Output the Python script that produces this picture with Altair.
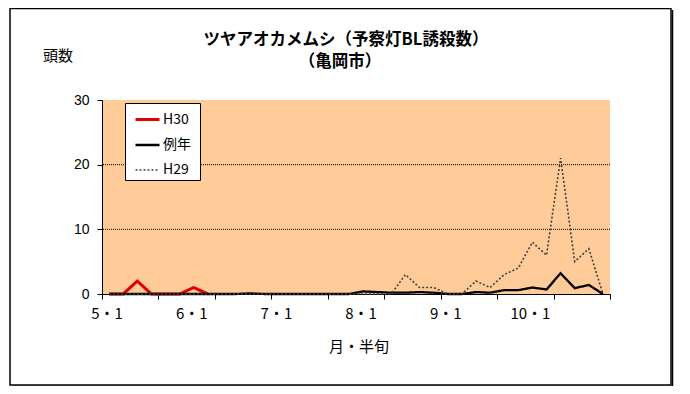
import altair as alt
import pandas as pd

# ---- data ----
months = [5, 6, 7, 8, 9, 10]
periods_per_month = 6
categories = [f"{m}・{k}" for m in months for k in range(1, periods_per_month + 1)]

series_names = ["H30", "例年", "H29"]
h30 = [0, 0, 2, 0, 0, 0, 1, 0]
normal = [0, 0, 0, 0, 0, 0, 0, 0, 0, 0,
          0.1, 0, 0, 0, 0, 0, 0, 0, 0.4, 0.3,
          0.2, 0.2, 0.3, 0.2, 0, 0, 0.3, 0.2, 0.6, 0.6,
          1.0, 0.7, 3.2, 0.9, 1.4, 0]
h29 = [0, 0, 0, 0, 0, 0, 0, 0, 0, 0,
       0, 0, 0, 0, 0, 0, 0, 0, 0, 0,
       0, 3, 1, 1, 0, 0, 2, 1, 3, 4,
       8, 6, 21, 5, 7, 0]

y_ticks = [0, 10, 20, 30]
grid_values = [10, 20]
title_lines = ["ツヤアオカメムシ（予察灯BL誘殺数）", "（亀岡市）"]
y_title = "頭数"
x_title = "月・半旬"

# ---- tables ----
rows = []
for name, vals in zip(series_names, [h30, normal, h29]):
    for i, v in enumerate(vals):
        rows.append({"pos": i + 0.5, "value": v, "series": name})
df = pd.DataFrame(rows)

lab_df = pd.DataFrame([{"pos": i + 0.5, "label": c}
                       for i, c in enumerate(categories) if c.endswith("・1")])
grid_df = pd.DataFrame({"v": grid_values})

W, H = 508, 194
FONT = "Liberation Sans, Noto Sans CJK JP"
JFONT = "Noto Sans CJK JP"

xscale = alt.Scale(domain=[0, len(categories)], nice=False, zero=False)
yscale = alt.Scale(domain=[0, 30], nice=False)
yaxis = alt.Axis(values=y_ticks, title=None, grid=False, tickSize=5,
                 tickColor="black", domainColor="black", labelPadding=8,
                 labelFont=FONT, labelFontSize=14, labelColor="black")
xaxis = alt.Axis(values=list(range(0, len(categories) + 1)), labels=False,
                 title=None, grid=False, tickSize=5, tickColor="black",
                 domainColor="black", domainWidth=1, tickWidth=1)

LX, LY = 32, 6
single = alt.Data(values=[{}])
legend_box = alt.Chart(single).mark_rect(fill="white", stroke="black", strokeWidth=1).encode(
    x=alt.value(23.5), x2=alt.value(98.5), y=alt.value(3.5), y2=alt.value(80.5))

lines = alt.Chart(df).mark_line(interpolate="linear").encode(
    x=alt.X("pos:Q", scale=xscale, axis=xaxis),
    y=alt.Y("value:Q", scale=yscale, axis=yaxis),
    color=alt.Color("series:N",
                    scale=alt.Scale(domain=series_names,
                                    range=["#E00000", "#000000", "#404040"]),
                    legend=alt.Legend(title=None, orient="none", legendX=LX, legendY=LY,
                                      padding=0, symbolType="stroke", symbolSize=576,
                                      labelFont=JFONT, labelFontSize=14,
                                      labelColor="black", rowPadding=4.5,
                                      labelOffset=2, symbolStrokeWidth=2)),
    strokeDash=alt.StrokeDash("series:N",
                              scale=alt.Scale(domain=series_names,
                                              range=[[1, 0], [1, 0], [2, 2]]),
                              legend=alt.Legend(title=None, orient="none",
                                                legendX=LX, legendY=LY)),
    strokeWidth=alt.StrokeWidth("series:N",
                                scale=alt.Scale(domain=series_names,
                                                range=[3, 1.6, 1]),
                                legend=alt.Legend(title=None, orient="none",
                                                  legendX=LX, legendY=LY)),
    detail="series:N",
)

grid = alt.Chart(grid_df).mark_rule(color="#000000", strokeWidth=1,
                                     strokeDash=[1, 1]).encode(
    y=alt.Y("v:Q", scale=yscale, axis=yaxis))

month_labels = alt.Chart(lab_df).mark_text(font=JFONT, fontSize=15, color="black",
                                           baseline="middle", dx=-2).encode(
    x=alt.X("pos:Q", scale=xscale), y=alt.value(H + 20), text="label:N")

t1 = alt.Chart(single).mark_text(text=title_lines[0], font=JFONT, fontSize=16.5,
                                 fontWeight="bold", color="black").encode(
    x=alt.value(244), y=alt.value(-60))
t2 = alt.Chart(single).mark_text(text=title_lines[1], font=JFONT, fontSize=16.5,
                                 fontWeight="bold", color="black").encode(
    x=alt.value(238), y=alt.value(-38))
yt = alt.Chart(single).mark_text(text=y_title, font=JFONT, fontSize=15,
                                 color="black").encode(
    x=alt.value(-44), y=alt.value(-44))
xt = alt.Chart(single).mark_text(text=x_title, font=JFONT, fontSize=15,
                                 color="black").encode(
    x=alt.value(257), y=alt.value(247))
frame = alt.Chart(single).mark_rect(fill=None, stroke="black", strokeWidth=1.5).encode(
    x=alt.value(-92), x2=alt.value(569), y=alt.value(-91.5), y2=alt.value(285))
shadow = alt.Chart(single).mark_rule(stroke="black", strokeWidth=1.5).encode(
    x=alt.value(570.5), y=alt.value(-90), y2=alt.value(286.5))
shadow2 = alt.Chart(single).mark_rule(stroke="black", strokeWidth=1.5).encode(
    x=alt.value(-90), x2=alt.value(570.5), y=alt.value(286.5))

chart = alt.layer(grid, legend_box, lines, month_labels, t1, t2, yt, xt,
                  frame, shadow, shadow2).properties(
    width=W, height=H,
    autosize=alt.AutoSizeParams(type="none"),
    padding={"left": 94, "top": 92, "right": 72, "bottom": 92},
    background="white",
).configure_view(fill="#FFCC99", stroke=None)

chart.save("out.html", embed_options={"renderer": "svg", "actions": False})
